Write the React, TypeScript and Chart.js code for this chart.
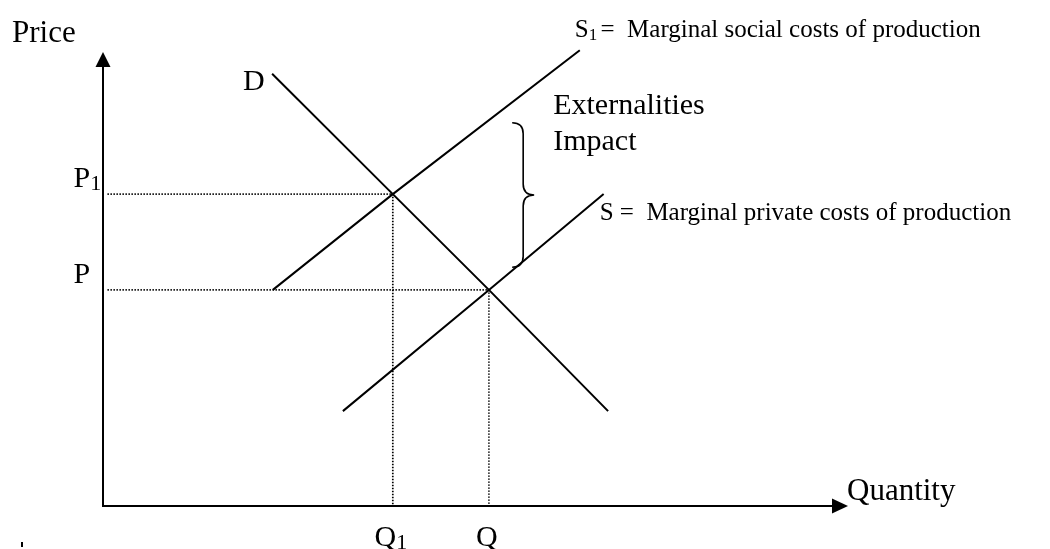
import React, { useEffect, useRef } from "react";
import { Chart, registerables } from "chart.js";

Chart.register(...registerables);

// ---- Data (arbitrary units 0..100) ----
const axisTitles = ["Price", "Quantity"];
// index 0 = equilibrium with externality (Q1, P1), index 1 = private equilibrium (Q, P)
const quantityTicks = [38.9, 51.8];
const quantityTickMain = ["Q", "Q"];
const quantityTickSub = ["1", ""];
const priceTicks = [68.7, 47.6];
const priceTickMain = ["P", "P"];
const priceTickSub = ["1", ""];

const demandQ = [22.7, 38.9, 51.8, 67.8];
const demandP = [95.2, 68.7, 47.6, 20.9];
const socialSupplyQ = [22.8, 38.9, 64.0];
const socialSupplyP = [47.6, 68.7, 100.4];
const privateSupplyQ = [32.2, 51.8, 67.2];
const privateSupplyP = [20.9, 47.6, 68.7];

const braceQ = [56.4];
const braceP = [84.4, 52.6];

const curveMain = ["D", "S", "S"];
const curveSub = ["", "1", ""];
const curveText = ["", " =  Marginal social costs of production", " =  Marginal private costs of production"];
const externalityText = ["Externalities", "Impact"];

const FONT = '"Liberation Serif", "Times New Roman", serif';

function pts(xs: number[], ys: number[]) {
  return xs.map((v, i) => ({ x: v, y: ys[i] }));
}

function txt(ctx: CanvasRenderingContext2D, s: string, x: number, y: number, size: number, align: CanvasTextAlign = "left") {
  ctx.font = `${size}px ${FONT}`;
  ctx.textAlign = align;
  ctx.textBaseline = "alphabetic";
  ctx.fillText(s, x, y);
  return ctx.measureText(s).width;
}

// main letter + subscript, returns total width
function subLabel(ctx: CanvasRenderingContext2D, main: string, sub: string, x: number, y: number, size: number, subSize: number) {
  let w = txt(ctx, main, x, y, size);
  if (sub) {
    w += txt(ctx, sub, x + w, y + 3, subSize);
  }
  return w;
}

function measureSub(ctx: CanvasRenderingContext2D, main: string, sub: string, size: number, subSize: number) {
  ctx.font = `${size}px ${FONT}`;
  let w = ctx.measureText(main).width;
  if (sub) {
    ctx.font = `${subSize}px ${FONT}`;
    w += ctx.measureText(sub).width;
  }
  return w;
}

const diagramPlugin = {
  id: "diagram",
  beforeDraw(chart: any) {
    const ctx = chart.ctx as CanvasRenderingContext2D;
    ctx.save();
    ctx.fillStyle = "#ffffff";
    ctx.fillRect(0, 0, chart.width, chart.height);
    ctx.restore();
  },
  afterDatasetsDraw(chart: any) {
    const ctx = chart.ctx as CanvasRenderingContext2D;
    const xs = chart.scales.x;
    const ys = chart.scales.y;
    const x0 = xs.getPixelForValue(0);
    const y0 = ys.getPixelForValue(0);
    const xTip = xs.getPixelForValue(xs.max);
    const yTip = ys.getPixelForValue(ys.max);

    ctx.save();
    ctx.strokeStyle = "#000";
    ctx.fillStyle = "#000";
    ctx.lineWidth = 2;
    ctx.lineCap = "butt";

    // y axis with arrow
    ctx.beginPath();
    ctx.moveTo(x0, y0 + 1);
    ctx.lineTo(x0, yTip + 12);
    ctx.stroke();
    ctx.beginPath();
    ctx.moveTo(x0, yTip);
    ctx.lineTo(x0 - 7.5, yTip + 15);
    ctx.lineTo(x0 + 7.5, yTip + 15);
    ctx.closePath();
    ctx.fill();

    // x axis with arrow
    ctx.beginPath();
    ctx.moveTo(x0 - 1, y0);
    ctx.lineTo(xTip - 12, y0);
    ctx.stroke();
    ctx.beginPath();
    ctx.moveTo(xTip, y0);
    ctx.lineTo(xTip - 16, y0 - 7.5);
    ctx.lineTo(xTip - 16, y0 + 7.5);
    ctx.closePath();
    ctx.fill();

    // brace "}"
    const bx = xs.getPixelForValue(braceQ[0]);
    const bt = ys.getPixelForValue(braceP[0]);
    const bb = ys.getPixelForValue(braceP[1]);
    const bm = (bt + bb) / 2;
    ctx.lineWidth = 1.6;
    ctx.beginPath();
    ctx.moveTo(bx - 11, bt);
    ctx.quadraticCurveTo(bx, bt, bx, bt + 11);
    ctx.lineTo(bx, bm - 11);
    ctx.quadraticCurveTo(bx, bm, bx + 11, bm);
    ctx.quadraticCurveTo(bx, bm, bx, bm + 11);
    ctx.lineTo(bx, bb - 11);
    ctx.quadraticCurveTo(bx, bb, bx - 11, bb);
    ctx.stroke();

    // axis titles
    txt(ctx, axisTitles[0], x0 - 91, yTip - 10, 31);
    txt(ctx, axisTitles[1], xTip - 1, y0 - 6, 31);

    // price tick labels
    priceTicks.forEach((p, i) => {
      const py = ys.getPixelForValue(p);
      subLabel(ctx, priceTickMain[i], priceTickSub[i], x0 - 29.5, py - 7, 30, 22);
    });
    // quantity tick labels
    quantityTicks.forEach((q, i) => {
      const qx = xs.getPixelForValue(q);
      const w = measureSub(ctx, quantityTickMain[i], quantityTickSub[i], 30, 22);
      subLabel(ctx, quantityTickMain[i], quantityTickSub[i], qx - w / 2 - 2, y0 + 40, 30, 22);
    });

    // curve labels
    const dStart = { x: xs.getPixelForValue(demandQ[0]), y: ys.getPixelForValue(demandP[0]) };
    txt(ctx, curveMain[0], dStart.x - 29, dStart.y + 16, 30);

    const sIdx = socialSupplyQ.length - 1;
    const s1End = { x: xs.getPixelForValue(socialSupplyQ[sIdx]), y: ys.getPixelForValue(socialSupplyP[sIdx]) };
    let w = subLabel(ctx, curveMain[1], curveSub[1], s1End.x - 5, s1End.y - 13, 25, 17);
    txt(ctx, curveText[1], s1End.x - 5 + w - 3, s1End.y - 13, 25);

    const pIdx = privateSupplyQ.length - 1;
    const sEnd = { x: xs.getPixelForValue(privateSupplyQ[pIdx]), y: ys.getPixelForValue(privateSupplyP[pIdx]) };
    w = subLabel(ctx, curveMain[2], curveSub[2], sEnd.x - 4, sEnd.y + 26, 25, 17);
    txt(ctx, curveText[2], sEnd.x - 4 + w, sEnd.y + 26, 25);

    // externality label
    txt(ctx, externalityText[0], bx + 30, bm - 81, 30);
    txt(ctx, externalityText[1], bx + 30, bm - 45, 30);

    // stray mark at bottom-left
    ctx.fillRect(21, 542, 2, 5);

    ctx.restore();
  },
};

export default function App() {
  const ref = useRef<HTMLCanvasElement | null>(null);

  useEffect(() => {
    if (!ref.current) return;
    const solid = {
      showLine: true,
      borderColor: "#000",
      backgroundColor: "#000",
      borderWidth: 2,
      pointRadius: 0,
      pointHoverRadius: 0,
      tension: 0,
      clip: false as any,
    };
    const dotted = {
      ...solid,
      borderWidth: 1.7,
      borderDash: [1.4, 1.6],
    };
    const guides = quantityTicks.map((q, i) => ({
      ...dotted,
      label: `guide${i}`,
      data: [
        { x: 0.6, y: priceTicks[i] },
        { x: q, y: priceTicks[i] },
        { x: q, y: 0 },
      ],
    }));

    const chart = new Chart(ref.current, {
      type: "scatter",
      data: {
        datasets: [
          ...guides,
          { ...solid, label: "D", data: pts(demandQ, demandP) },
          { ...solid, label: "S1", data: pts(socialSupplyQ, socialSupplyP) },
          { ...solid, label: "S", data: pts(privateSupplyQ, privateSupplyP) },
        ] as any,
      },
      options: {
        animation: false,
        responsive: false,
        devicePixelRatio: 1,
        layout: { padding: { left: 103, right: 202, top: 52, bottom: 43 } },
        scales: {
          x: { type: "linear", min: 0, max: 100, display: false },
          y: { type: "linear", min: 0, max: 100, display: false },
        },
        plugins: {
          legend: { display: false },
          tooltip: { enabled: false },
        },
        events: [],
      },
      plugins: [diagramPlugin],
    });
    return () => chart.destroy();
  }, []);

  return (
    <div style={{ position: "absolute", left: 0, top: 0, width: 1050, height: 549, background: "#fff" }}>
      <canvas ref={ref} width={1050} height={549} style={{ display: "block", width: 1050, height: 549 }} />
    </div>
  );
}
